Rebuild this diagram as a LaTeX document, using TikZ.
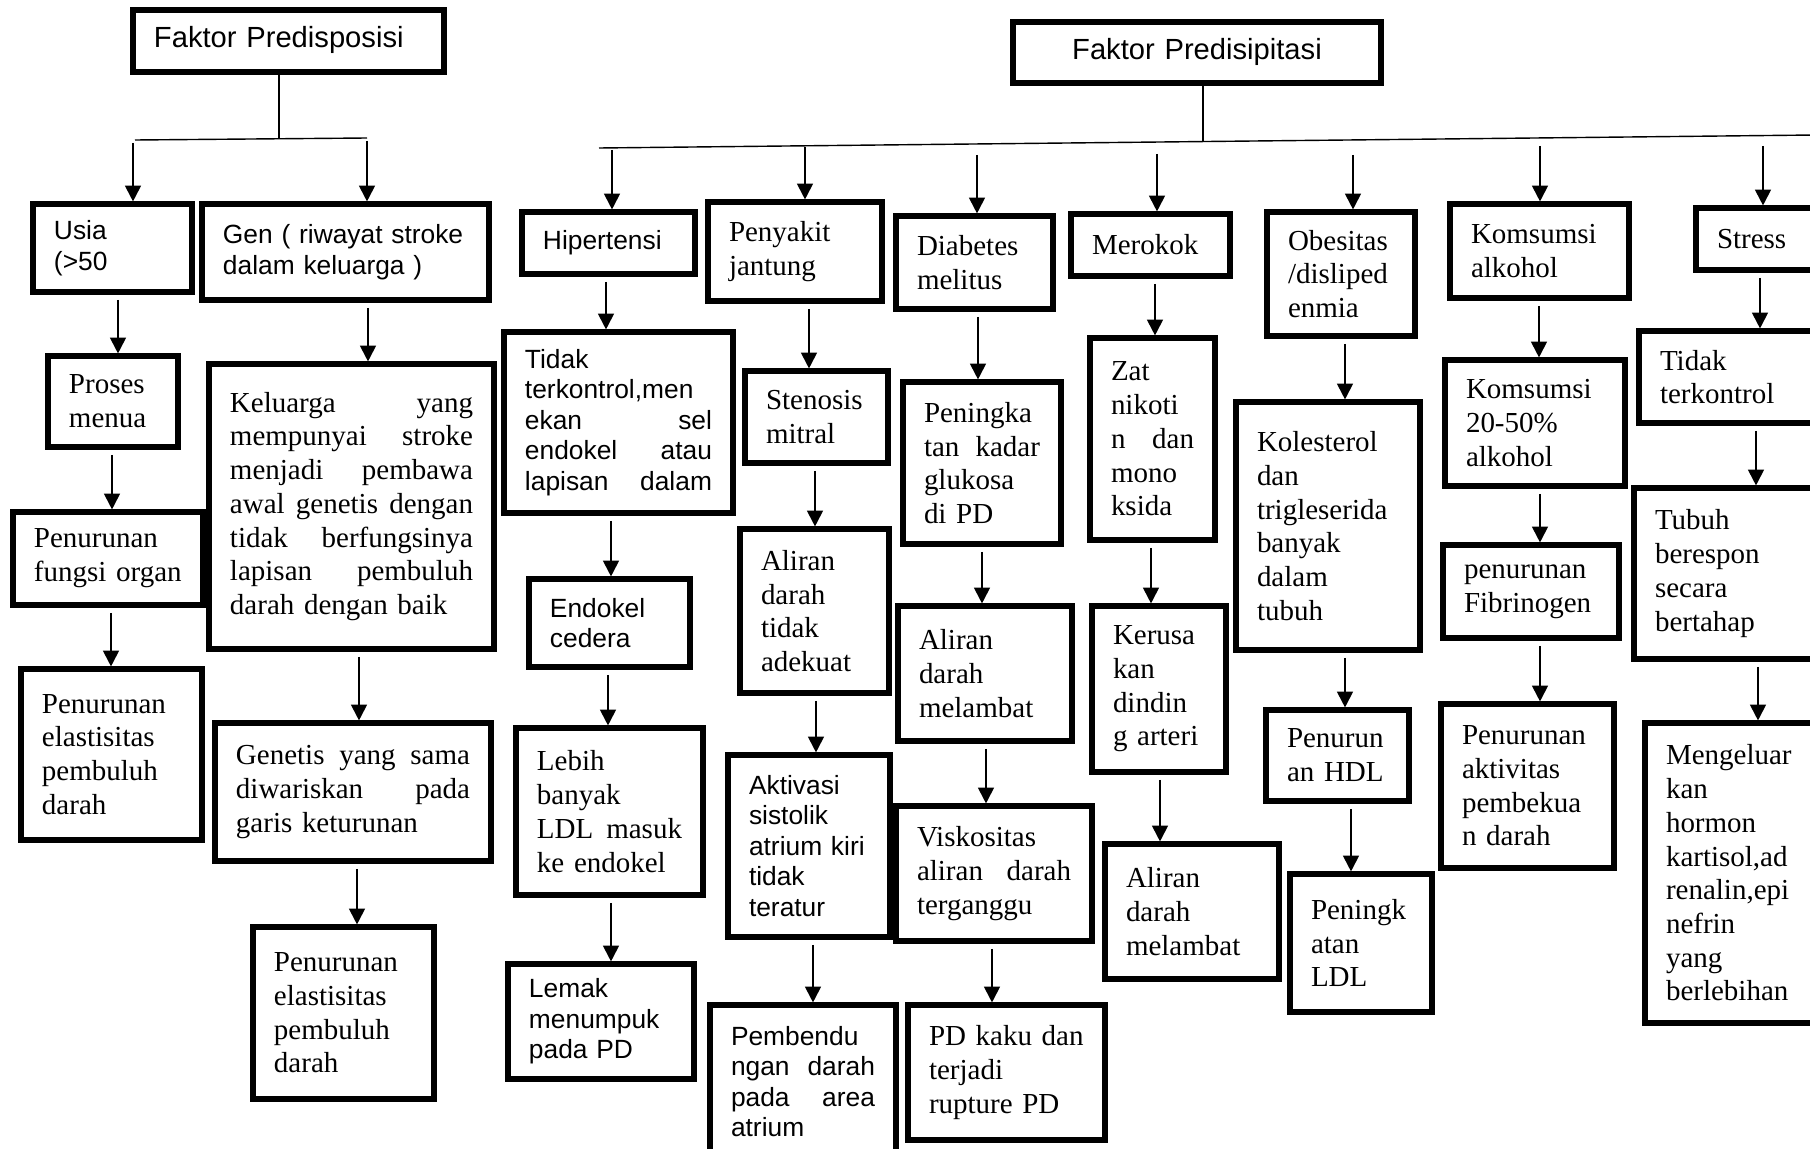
\documentclass[tikz,border=0pt]{standalone}
\usepackage{fontspec}
\setmainfont{Liberation Serif}
\newfontfamily\arialf{Liberation Sans}
\usetikzlibrary{arrows.meta}
% #1 extra style, #2 name, #3 x1, #4 y1, #5 x2, #6 y2 (pixels), #7 text
\newcommand\mkbox[7][tnr]{%
  \pgfmathsetmacro\bxw{(#5-#3)*0.02}%
  \pgfmathsetmacro\bxh{(#6-#4)*0.02}%
  \pgfmathsetmacro\bxt{(#5-#3)*0.02-0.84}%
  \node[box,#1,minimum width=\bxw cm,minimum height=\bxh cm,text width=\bxt cm]
    (#2) at ({(#3+#5)/2},{(#4+#6)/2}) {#7};}
\begin{document}
\begin{tikzpicture}[x=0.02cm,y=-0.02cm,
  box/.style={draw,line width=2.9pt,inner xsep=0.42cm,inner ysep=0pt,align=left},
  tnr/.style={font=\fontsize{16.5}{19.2}\selectfont},
  ari/.style={font=\arialf\fontsize{15}{17.4}\selectfont},
  ttl/.style={font=\arialf\fontsize{16.6}{19}\selectfont,align=center,text height=1em,text depth=0.21em},
  arr/.style={line width=1.1pt,-{Triangle[length=9pt,width=9pt]},shorten <=3pt},
  tarr/.style={line width=1.1pt,-{Triangle[length=9pt,width=9pt]}},
  tree/.style={line width=0.8pt}]
\fill[white] (0,0) rectangle (1810,1149);
\useasboundingbox (0,0) rectangle (1810,1149);

% ---------- Faktor Predisposisi ----------
\mkbox[ttl,align=left]{pdisp}{133}{10}{444}{72}{Faktor Predisposisi}
\mkbox[ari]{usia}{33}{204}{192}{292}{Usia\\(>50}
\mkbox[ari]{gen}{202}{204}{489}{300}{Gen ( riwayat stroke\\dalam keluarga )}
\mkbox{proses}{48}{356}{178}{447}{Proses\\menua}
\mkbox{fungsi}{13}{512}{203}{605}{Penurunan\\fungsi organ}
\mkbox{elasa}{21}{669}{202}{840}{Penurunan\\elastisitas\\pembuluh\\darah}
\mkbox{kel}{209}{364}{494}{649}{Keluarga\hfill yang\\mempunyai\hfill stroke\\menjadi\hfill pembawa\\awal\hfill genetis\hfill dengan\\tidak\hfill berfungsinya\\lapisan\hfill pembuluh\\darah dengan baik}
\mkbox{genetis}{215}{723}{491}{861}{Genetis\hfill yang\hfill sama\\diwariskan\hfill pada\\garis keturunan}
\mkbox{elasb}{253}{927}{434}{1099}{Penurunan\\elastisitas\\pembuluh\\darah}

% ---------- Faktor Predisipitasi ----------
\mkbox[ttl]{pdisip}{1013}{22}{1381}{83}{Faktor Predisipitasi}
\mkbox[ari]{hip}{522}{212}{695}{274}{Hipertensi}
\mkbox{pj}{708}{202}{882}{301}{Penyakit\\jantung}
\mkbox{dm}{896}{216}{1053}{309}{Diabetes\\melitus}
\mkbox{mer}{1071}{214}{1230}{276}{Merokok}
\mkbox{obe}{1267}{212}{1415}{336}{Obesitas\\/disliped\\enmia}
\mkbox{alk}{1450}{204}{1629}{298}{Komsumsi\\alkohol}
\mkbox{str}{1696}{208}{1830}{270}{Stress}

\mkbox[ari]{tk}{504}{332}{733}{513}{Tidak\\terkontrol,men\\ekan\hfill sel\\endokel\hfill atau\\lapisan\hfill dalam}
\mkbox{sten}{745}{371}{888}{463}{Stenosis\\mitral}
\mkbox{pkg}{903}{382}{1061}{544}{Peningka\\tan\hfill kadar\\glukosa\\di PD}
\mkbox{zat}{1090}{338}{1215}{540}{Zat\\nikoti\\n\hfill dan\\mono\\ksida}
\mkbox{kol}{1236}{402}{1420}{650}{Kolesterol\\dan\\trigleserida\\banyak\\dalam\\tubuh}
\mkbox{alkb}{1445}{360}{1625}{486}{Komsumsi\\20-50\%\\alkohol}
\mkbox{tkb}{1639}{331}{1830}{423}{Tidak\\terkontrol}

\mkbox[ari]{endo}{529}{579}{690}{667}{Endokel\\cedera}
\mkbox{adek}{740}{529}{889}{693}{Aliran\\darah\\tidak\\adekuat}
\mkbox{amla}{898}{606}{1072}{741}{Aliran\\darah\\melambat}
\mkbox{ker}{1092}{606}{1226}{772}{Kerusa\\kan\\dindin\\g arteri}
\mkbox{hdl}{1266}{710}{1409}{801}{Penurun\\an HDL}
\mkbox{fib}{1443}{545}{1619}{638}{penurunan\\Fibrinogen}
\mkbox{tub}{1634}{488}{1830}{659}{Tubuh\\berespon\\secara\\bertahap}

\mkbox{ldla}{516}{728}{703}{895}{Lebih\\banyak\\LDL\hfill masuk\\ke endokel}
\mkbox[ari]{akt}{728}{755}{890}{937}{Aktivasi\\sistolik\\atrium kiri\\tidak\\teratur}
\mkbox{visk}{896}{806}{1092}{941}{Viskositas\\aliran\hfill darah\\terganggu}
\mkbox{amlb}{1105}{844}{1279}{979}{Aliran\\darah\\melambat}
\mkbox{ldlb}{1290}{874}{1432}{1012}{Peningk\\atan\\LDL}
\mkbox{pak}{1441}{704}{1614}{868}{Penurunan\\aktivitas\\pembekua\\n darah}
\mkbox{horm}{1645}{723}{1830}{1023}{Mengeluar\\kan\\hormon\\kartisol,ad\\renalin,epi\\nefrin\\yang\\berlebihan}

\mkbox[ari]{lemak}{508}{964}{694}{1079}{Lemak\\menumpuk\\pada PD}
\mkbox[ari]{pemb}{710}{1005}{896}{1158}{Pembendu\\ngan\hfill darah\\pada\hfill area\\atrium}
\mkbox{pdk}{908}{1005}{1105}{1140}{PD kaku dan\\terjadi\\rupture PD}

% ---------- tree connectors ----------
\coordinate (tm) at (279,139);
\coordinate (ta) at (135,140);
\coordinate (tb) at (367,138);
\draw[tree] (pdisp.south -| tm) -- (tm);
\draw[tree] (ta) -- (tb);
\coordinate (ua) at (133,143);
\coordinate (ub) at (367,141);
\draw[tarr] (ua) -- (ua |- usia.north);
\draw[tarr] (ub) -- (ub |- gen.north);

\coordinate (ra) at (599,148);
\coordinate (rb) at (1815,135);
\coordinate (rm) at (1203,142);
\draw[tree] (pdisip.south -| rm) -- (rm);
\draw[tree] (ra) -- (rb);
\foreach \t/\x/\y in {hip/612/150, pj/805/147, dm/977/155, mer/1157/154, obe/1353/155, alk/1540/146, str/1763/146}{
  \coordinate (br-\t) at (\x,\y);
  \draw[tarr] (br-\t) -- (br-\t |- \t.north);
}

% ---------- box to box arrows ----------
\foreach \s/\t/\x in {usia/proses/118, proses/fungsi/112, fungsi/elasa/111,
  gen/kel/368, kel/genetis/359, genetis/elasb/357,
  hip/tk/606, tk/endo/611, endo/ldla/608, ldla/lemak/611,
  pj/sten/809, sten/adek/815, adek/akt/816, akt/pemb/813,
  dm/pkg/978, pkg/amla/982, amla/visk/986, visk/pdk/992,
  mer/zat/1155, zat/ker/1151, ker/amlb/1160,
  obe/kol/1345, kol/hdl/1345, hdl/ldlb/1351,
  alk/alkb/1539, alkb/fib/1540, fib/pak/1540,
  str/tkb/1760, tkb/tub/1756, tub/horm/1758}{
  \draw[arr] (\s.south -| \x,0) -- (\t.north -| \x,0);
}
\end{tikzpicture}
\end{document}
